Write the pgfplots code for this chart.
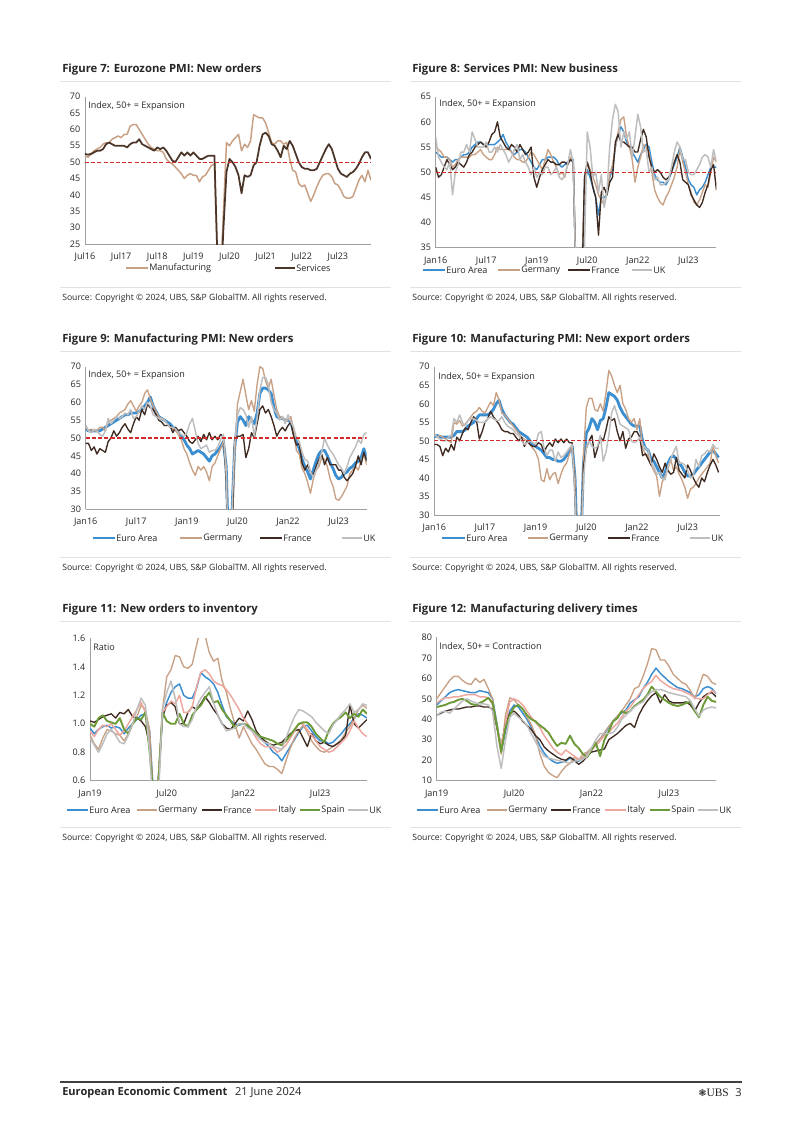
\documentclass[border=0pt]{standalone}
\usepackage{fontspec}
\setmainfont{Open Sans}
\newfontfamily\dejavu{DejaVu Sans}
\newfontfamily\ubsserif{Liberation Serif}
\usepackage{pgfplots}
\usepackage{pgfplotstable}
\pgfplotsset{compat=1.18}
\definecolor{cEA}{HTML}{3B8ED0}
\definecolor{cDE}{HTML}{C8A084}
\definecolor{cFR}{HTML}{3E2A20}
\definecolor{cUK}{HTML}{BEBEBE}
\definecolor{cIT}{HTML}{EDA79E}
\definecolor{cES}{HTML}{6C9A36}
\definecolor{cSV}{HTML}{4B3529}
\definecolor{cRed}{HTML}{D42A2A}
\definecolor{cAx}{HTML}{A0A0A0}
\definecolor{cTxt}{HTML}{262626}
\definecolor{cRule}{HTML}{E2E2E2}
\newcommand\tl{\fontsize{6.7}{8}\selectfont}
\newcommand\srcf{\fontsize{6.4}{7.5}\selectfont}
\newcommand\ttlf{\bfseries\fontsize{8.4}{10}\selectfont}
\tikzset{
 sEA/.style={cEA, line width=1.1pt},
 sEAt/.style={cEA, line width=2.1pt},
 sDE/.style={cDE, line width=1pt},
 sFR/.style={cFR, line width=1pt},
 sUK/.style={cUK, line width=1.1pt},
 sIT/.style={cIT, line width=1.1pt},
 sES/.style={cES, line width=1.4pt},
 sMF/.style={cDE, line width=1.1pt},
 sSV/.style={cSV, line width=1.3pt},
 sRD/.style={cRed, line width=0.9pt, dash pattern=on 3pt off 1.6pt},
 tt/.style={anchor=west, inner sep=0pt, font=\ttlf, text=cTxt},
 src/.style={anchor=west, inner sep=0pt, font=\srcf, text=cTxt},
 lt/.style={anchor=west, inner sep=0.8pt, font=\tl, text=cTxt},
}
\pgfplotsset{ubs/.style={
 scale only axis, anchor=south west,
 axis x line*=bottom, axis y line*=left,
 axis line style={-, cAx, line width=0.7pt},
 x axis line style={-}, y axis line style={-},
 major tick length=0pt,
 tick label style={font=\tl, text=cTxt},
 /pgf/number format/assume math mode=true,
 xticklabel style={yshift=-3pt},
 clip=true, no markers, xmin=0,
 every axis plot/.append style={line join=round},
}}
\begin{document}
\pgfplotstableread{
mfg svc
52 52.5
51.5 52.3
52.5 52.5
53.5 53
54 53.5
54.5 53.5
55.5 54
56 55.5
56 56
57 55.5
57.5 55
58 55
57.5 55
58.5 55
58.5 54.5
61 55.5
61.5 56
61.5 56
60 57
58.5 55.5
57 55
55.5 54.5
54.5 54
54 53.5
53.5 54.5
53.5 54
53 54.5
51 53.5
50 52
49.5 50.5
48.5 50
47.5 51.5
46.5 53
45 52
46 53
46.5 52
46 53
46 52
44 51
45.5 51
46 51.5
47.5 52
49 52
49.5 52
20 20
15 10
35 30
56 47
55 51
56.5 50
57.5 48.5
58.5 46
53.5 40.5
55.5 46
54.5 45.5
56.5 46
64.5 49
64 50
63.5 55
63.5 58.5
62 59
59 58
56 55.5
55.5 55
56.5 53.5
56.5 51.5
55.5 55
56 54
51 56.5
47.5 55
47 52.5
43.5 50
42.5 48.5
43 48
40.5 48
38 47.5
40 47.5
42.5 48
44.5 50
46 52
46.5 54
46.5 55.5
45.5 54
43.5 51
43 48
41.5 46.5
39.5 46
39 45.5
39 46.5
39.5 47
42 48
44.5 49.5
46 51.5
44 53
47.5 53
44.5 51
}\tabA
\pgfplotstableread{
ea de fr uk
54 55 51 57
53.5 54.5 49 53
53 54 49.5 52
53 53 51 51
53 53 52.5 50.5
52.5 52.5 51.5 52
52 51 50.5 45.5
52.5 51.5 51 50
52.5 52.5 52 51.5
53 53 51.5 54
53.5 53 51 54
53.5 53 52 55.5
54 53 53.5 54
55 53.5 54 58
55.5 53.5 55 56.5
56 54 55.5 55
56 54.5 56 55
55.5 53.5 55.5 55
55.5 53 55 56
55.5 52.5 56 54
55.5 52.5 57.5 54
55.5 53.5 58 55
56 55 60 54
56.5 54.5 57 55.5
57.5 54.5 56 54.5
56 54.5 55 53.5
55 54.5 54.5 52
54 54 55.5 53
53.5 53 55 54.5
54 52.5 54 55.5
54.5 52.5 55.5 52.5
54.5 52 54.5 53.5
54 52 53.5 52
53 53 54 51
52 54 55 49.5
51 53.5 49 51
50.5 52.5 47 49
51.5 51.5 49 50
52.5 50.5 50.5 49.5
52.5 52.5 51.5 51
53 54.5 52.5 51
53 53.5 52 49.5
53 52 52 50
52.5 51 51.5 51
51.5 49.5 51.5 49
51 50 52 48.5
51.5 49 52 49.5
52 51.5 51.5 51.5
52.5 53 52.5 54.5
52.5 52 52 52
27 30 27 27
10 15 10 10
24 30 25 16
47 47 49 35
50.5 52 52 58
49 50.5 50 55
47 49 47 49
45 47.5 45 50
41.5 45.5 37.5 46
45 44.5 46 49.5
45 43.5 47 43
45.5 46 45.5 46
49 49.5 48 55
50.5 51.5 49 60.5
55 55 56 63.5
57.5 58 57.5 62
59 60.5 56 55
58 61 56 58
56 57 55.5 56.5
55 55 55 58
54 52.5 55 53
53 48 54 57
52 51 54 61.5
53.5 53 56.5 59
54.5 55.5 58.5 54
55.5 55 57 54.5
55 54 53 50
52 50 51 51
49.5 46.5 50 48.5
48.5 45 50.5 49
48 44 50 47.5
48 43.5 49 47.5
47.5 45 48.5 48
48.5 46 49 48.5
50 47.5 50 51
51.5 49 52 54
53 51 53.5 56
55 54.5 52 55
53 52 48.5 52.5
51 50 48 52.5
48.5 47.5 47.5 50
47.5 46 45.5 49.5
47 44 44.5 49.5
45.5 43.5 43.5 50.5
46.5 44.5 43 51.5
47 46 44 53
48 47.5 46 53.5
49.5 47 47.5 53
51 50 50.5 51
51 53 51.5 54.5
51 52 46.5 52
}\tabB
\pgfplotstableread{
ea de fr uk
52.5 53.5 48.5 53.5
52 52 48.5 52
52 52.5 46.5 51.5
52 52 47.5 52.5
52 52 45.5 52
52 53 47 51
52.5 53 46.5 50.5
53 52 46 52
53.5 54.5 49 55.5
54 55 50 54
54.5 55.5 52 55
55 56 50.5 56
55.5 57 51.5 55.5
56 57.5 53 56
56.5 58 54 57
56.5 59.5 52.5 56.5
57 60.5 51.5 58
57 59 54 55.5
57 57.5 56 56
57.5 59 55 57.5
58 60 58 59
59 62.5 56.5 58
60 63.5 59.5 60
61.5 61 58.5 59
59 59 58 56.5
57.5 57.5 56.5 56
56 56 55 55.5
55.5 55.5 54.5 55.5
55 55 53.5 55
54.5 54 53.5 54
54 53 53.5 53
53 52.5 51.5 53
52.5 52 53 52.5
51.5 51 52 51.5
50.5 49.5 52.5 51
49.5 47 51.5 50.5
48 45.5 50.5 51.5
47 43 49 54
45.5 41 48.5 55.5
46 39.5 49.5 52
46.5 42 50.5 48.5
46 41 49 47
45.5 42 51 47.5
44.5 40.5 49.5 48
43.5 38 51.5 46
45 42 49.5 46.5
45.5 43 50.5 46.5
46.5 45 49.5 47.5
47.5 47 51 49.5
49 49 50.5 51
42 42 38 40
15 10 10 10
28 20 20 28
47 45 49.5 48
54.5 59.5 50.5 56.5
56 63 50.5 58.5
55 66.5 51 58
53.5 62 44.5 56.5
56 58 47 53
55 60.5 51.5 56
54 57.5 50 50.5
57 65 54 55.5
62.5 70 58 63.5
64 69.5 59 67
64 66 57 67
63.5 64 58 65
62.5 66.5 56 60
58.5 62 53.5 58
56 58 50.5 57
55.5 56 52 55
55.5 56 53 56
55 55 52 54
55 55 53.5 56.5
54.5 56 54.5 54.5
51.5 52 50.5 53
49 46.5 48 50
47 45.5 48.5 49
44 41.5 43 46
42 40 41 44
40.5 37.5 42.5 43.5
38.5 34.5 40.5 40.5
41 38.5 39.5 39
43.5 41 42 41
45.5 42 44 43
46.5 44.5 45.5 46
46.5 44 42.5 50
45 42 44.5 48
43 38.5 42.5 46.5
41.5 36.5 42.5 45.5
39.5 33 42.5 44
38.5 32.5 41 42.5
39 33.5 41 41.5
40 35 39 40
40.5 36.5 38 42
41.5 40 39 44.5
42 41 40 46
43 42 42 47.5
43.5 41 45 49.5
44.5 43.5 42.5 48.5
47 45.5 46 51
44 42.5 43.5 51.5
}\tabC
\pgfplotstableread{
ea de fr uk
51 52 49 52
51.5 51 49 51
51 51.5 48.5 50.5
51 51 46 50
51 50.5 48 50
51 50 47 51
51 49.5 49 51.5
51.5 55 47.5 56
52.5 54.5 51 55
52.5 55.5 50 57
52.5 54 52 55
53 54.5 53.5 54
54 55.5 53 55.5
54.5 56.5 55 56
55 57.5 56.5 56
56 58 55.5 55.5
57 59 50.5 55
57 58 52.5 55
57 57.5 55 55
57 59 56 56
57.5 60.5 58 56.5
58.5 59.5 56.5 56
60 63 55.5 55.5
61 61 54.5 55.5
58.5 57.5 53 56.5
57 57 52.5 55
56 56 52.5 54
55 55 52 53.5
54.5 54 52 53
53.5 53 51 52
52.5 52 50 51.5
52 51 51 50
51.5 50.5 48.5 49
51 50 50 49.5
50 49 49 50
49 48 48.5 49.5
48.5 47 48.5 49
48 45 49.5 52
47.5 39.5 49 52.5
46.5 39 47 48
45.5 42.5 48.5 46
45.5 39.5 49.5 47.5
45 41 48.5 47.5
45 41.5 50.5 44.5
44.5 38.5 49.5 47
44.5 41 50.5 45.5
45 43 49.5 46
46 44 50.5 47
47 46.5 49.5 48
48.5 48.5 49.5 49
40 40 36 35
15 10 10 10
20 20 20 20
44 46 43 40
52 59 48 48
53.5 61.5 50 50
56 61.5 51.5 48.5
55 58.5 45.5 48
53 58 48 48.5
55.5 60 51 51.5
56 58 50 44.5
59 63 53 47
63 69 56.5 51.5
62.5 67.5 55.5 57.5
62 65 56 59.5
61 63 52.5 57
59 65 50 54.5
57.5 60 52.5 54
56.5 58.5 48 53.5
55.5 56 50.5 53
54.5 55 51 50
54 56 52.5 49.5
54 53 52.5 50
54 56 51 51
50 48 46 49
48 46.5 46.5 48
47.5 46 45 47.5
45 43.5 43.5 44
44.5 42 46.5 43
43 40.5 45 41
41.5 35 43 41.5
40 39 41.5 40
41.5 40.5 44 39.5
44 42.5 42 43
45.5 45 41 45
46 42 41.5 47
45 43 45.5 48.5
44 41 42 44
43 39.5 41 44
41.5 37.5 40 43.5
40.5 34.5 43.5 42
40.5 37 42 40
41 37.5 40 40.5
42 38.5 38.5 45
43 40 37.5 43
44 41 40 46
45 42 39 46.5
46 43 41.5 47.5
47 44 43.5 47
47.5 48.5 45 49
46.5 46 43.5 48
45.5 44 41.5 48
}\tabD
\pgfplotstableread{
ea de fr it es uk
0.97 0.92 1.02 0.95 1.00 0.90
0.93 0.86 1.01 0.91 0.98 0.85
0.96 0.82 1.03 0.96 1.04 0.80
0.98 0.90 1.05 0.99 1.06 0.86
0.99 0.96 1.06 0.98 1.02 0.93
0.97 0.95 1.07 1.00 1.01 0.96
0.98 0.93 1.04 0.96 1.00 0.92
0.97 0.92 1.08 0.92 1.04 0.87
0.93 0.88 1.07 0.95 0.96 0.86
0.97 0.93 1.10 1.00 0.93 0.92
1.00 1.00 1.05 1.05 1.00 1.00
1.03 1.05 1.04 1.10 1.04 1.10
1.06 1.13 1.02 1.15 1.03 1.18
1.07 1.10 0.98 1.08 1.08 1.13
0.95 0.95 0.85 0.85 0.80 0.80
0.45 0.40 0.45 0.45 0.45 0.30
0.60 0.55 0.60 0.60 0.55 0.45
1.05 1.10 1.05 1.08 1.08 1.10
1.15 1.33 1.13 1.12 1.02 1.22
1.22 1.38 1.15 1.16 1.00 1.30
1.26 1.48 1.12 1.14 1.00 1.18
1.28 1.47 1.00 1.20 1.07 1.00
1.20 1.40 1.00 1.08 1.00 0.98
1.18 1.39 1.08 1.08 0.98 0.98
1.18 1.42 1.12 1.12 1.06 1.03
1.25 1.55 1.10 1.26 1.10 1.12
1.36 1.68 1.14 1.36 1.13 1.18
1.33 1.62 1.19 1.38 1.18 1.22
1.31 1.50 1.15 1.35 1.22 1.26
1.28 1.44 1.10 1.30 1.15 1.15
1.22 1.46 1.06 1.28 1.16 1.06
1.13 1.30 1.00 1.27 1.10 1.00
1.05 1.22 0.97 1.24 1.06 0.95
1.02 1.10 0.96 1.20 1.02 0.96
1.00 1.00 1.00 1.15 0.97 0.97
0.99 0.90 1.04 1.10 1.00 1.00
1.00 0.98 1.02 1.04 1.00 1.00
0.98 0.92 1.09 1.00 0.99 0.97
0.96 0.86 1.03 0.95 0.96 0.95
0.93 0.82 0.95 0.90 0.93 0.92
0.90 0.77 0.91 0.86 0.91 0.89
0.87 0.72 0.88 0.84 0.90 0.87
0.84 0.70 0.86 0.84 0.89 0.86
0.80 0.70 0.85 0.83 0.88 0.84
0.78 0.68 0.86 0.80 0.86 0.83
0.74 0.65 0.87 0.82 0.85 0.82
0.79 0.74 0.90 0.85 0.88 0.90
0.84 0.83 0.93 0.90 0.92 0.98
0.89 0.90 0.95 0.95 0.96 1.05
0.94 0.95 0.96 1.00 1.00 1.10
0.98 0.99 0.90 1.00 1.01 1.09
0.99 0.94 0.84 0.96 1.01 1.07
0.95 0.88 0.93 0.92 0.98 1.05
0.91 0.84 0.88 0.88 0.93 1.01
0.88 0.81 0.86 0.84 0.90 0.98
0.88 0.80 0.87 0.82 0.87 0.95
0.86 0.82 0.85 0.80 0.95 0.93
0.87 0.84 0.84 0.81 1.00 0.99
0.90 0.86 0.86 0.84 1.03 1.03
0.93 0.89 0.88 0.87 1.05 1.07
0.97 0.94 0.92 0.90 1.08 1.10
1.00 0.98 1.13 0.95 1.04 1.14
1.04 1.04 1.00 1.02 1.07 1.08
1.07 1.10 0.97 0.97 1.05 1.10
1.06 1.13 1.00 0.93 1.10 1.14
1.04 1.11 1.03 0.91 1.07 1.13
}\tabE
\pgfplotstableread{
ea de fr it es uk
47 50 42 48 46 42
49 53 43 49.5 46.5 43.5
51 56 44 50.5 47 44
53 59 44.5 50.5 48 43
54 61 45 51 48.5 45
54.5 61 45 51 49.5 47
54 59 45.5 51.5 50 49
53.5 57.5 46 52 49 50
53 57 46 52 47.5 49
53 60 46.5 52 47 48
54 58 46.5 51 48 47.5
53.5 59.5 46 51 49 47.5
53 55 46 50.5 50.5 47
50 50 45 47 48 44
38 36 36 37 37 27
24 23 27 27 24 16
34 42 38 38 36 30
44 50.5 43 48.5 42 41
47 49.5 44 50 46 43
46 47 42 49 47 41
43 45 39 47 45 39.5
40 41 37 44 42 37
36 37.5 35 41 40 33
31.5 32 32 38.5 39 29
27 23 30 36 37 25
23.5 17 26.5 32 35.5 22
21 14 24.5 29 33.5 21
19.5 12.5 23 26 30 20.5
18.5 11.5 21.5 24 27 20
19 14.5 20.5 22.5 28.5 19.5
19.5 17 20 25 28 19
21 18.5 21.5 23.5 32 18.5
20 21.5 20 22 28 19.5
19.5 20 18 20.5 26 20
21 23 19.5 21.5 23 20.5
23.5 24 22 23 21.5 22
26 26 24 25 25 26
28 28 24.5 27 28.5 30
30.5 30.5 25 29.5 22 33
33 33.5 25.5 32 30 33
36 36.5 30 33.5 34 33
39 39 31.5 36 39 33.5
41.5 41.5 33 38 40.5 36
43 44 35 41 44 40
44.5 47 37 44 43 42
48 50 38 46 44 44
49.5 55 36 49 46.5 46
51 56 42 52 48 47.5
55 61 46 55 49.5 48.5
58 67 49 57 52 51.5
62 74.5 51.5 58.5 56 53.5
65 74 53 61.5 53.5 54.5
62.5 69 48 59 51 54.5
60.5 69 52 57.5 49.5 54
58.5 66 49 56 48 53
57 62 48 55 47 52.5
55.5 60 48 54.5 46.5 52
55 58 48 54 47 51.5
54 57 48.5 53 48 51
53 54 47 52 48.5 49
51 50 44 50.5 44 45
52 56 48 50 41 41.5
55 62 51 50 47 44.5
56 61 52.5 52 51 45.5
55 58 53 54 49 46
52.5 57 51 53 48.5 45.5
}\tabF
\begin{tikzpicture}
\begin{scope}[x=0.7424pt,y=-0.7424pt]
\fill[white] (0,0) rectangle (802,1134);
% titles
\node[tt] at (62,70) {Figure 7: Eurozone PMI: New orders};
\node[tt] at (412,70) {Figure 8: Services PMI: New business};
\node[tt] at (62,340) {Figure 9: Manufacturing PMI: New orders};
\node[tt] at (412,340) {Figure 10: Manufacturing PMI: New export orders};
\node[tt] at (62,610) {Figure 11: New orders to inventory};
\node[tt] at (412,610) {Figure 12: Manufacturing delivery times};
% rules
\foreach \yy in {81,351,621,287,557,827} {
  \draw[cRule, line width=0.5pt] (60,\yy) -- (391,\yy);
  \draw[cRule, line width=0.5pt] (410,\yy) -- (741,\yy);
}
% sources
\foreach \yy in {298,568,838} {
  \node[src] at (62,\yy) {Source: Copyright © 2024, UBS, S\&P GlobalTM. All rights reserved.};
  \node[src] at (412,\yy) {Source: Copyright © 2024, UBS, S\&P GlobalTM. All rights reserved.};
}
% annotations
\node[lt] at (87,106) {Index, 50+ = Expansion};
\node[lt] at (438,104) {Index, 50+ = Expansion};
\node[lt] at (87,375) {Index, 50+ = Expansion};
\node[lt] at (437,377) {Index, 50+ = Expansion};
\node[lt] at (92,647) {Ratio};
\node[lt] at (438,647) {Index, 50+ = Contraction};
% legends
\draw[sMF] (126,268) -- (148,268); \node[lt] at (148,268) {Manufacturing};
\draw[sSV] (275,268) -- (295,268); \node[lt] at (295,268) {Services};
\draw[sEA] (423,270) -- (445,270); \node[lt] at (445,270) {Euro Area};
\draw[sDE] (498,270) -- (520,270); \node[lt] at (520,270) {Germany};
\draw[sFR] (568,270) -- (590,270); \node[lt] at (590,270) {France};
\draw[sUK] (632,270) -- (652,270); \node[lt] at (652,270) {UK};
\draw[sEAt] (93,538) -- (115,538); \node[lt] at (115,538) {Euro Area};
\draw[sDE] (180,538) -- (202,538); \node[lt] at (202,538) {Germany};
\draw[sFR] (260,538) -- (282,538); \node[lt] at (282,538) {France};
\draw[sUK] (342,538) -- (362,538); \node[lt] at (362,538) {UK};
\draw[sEAt] (442,538) -- (465,538); \node[lt] at (465,538) {Euro Area};
\draw[sDE] (528,538) -- (548,538); \node[lt] at (548,538) {Germany};
\draw[sFR] (608,538) -- (630,538); \node[lt] at (630,538) {France};
\draw[sUK] (690,538) -- (710,538); \node[lt] at (710,538) {UK};
\draw[sEA] (67,810) -- (88,810); \node[lt] at (88,810) {Euro Area};
\draw[sDE] (137,810) -- (157,810); \node[lt] at (157,810) {Germany};
\draw[sFR] (202,810) -- (222,810); \node[lt] at (222,810) {France};
\draw[sIT] (255,810) -- (277,810); \node[lt] at (277,810) {Italy};
\draw[sES] (300,810) -- (320,810); \node[lt] at (320,810) {Spain};
\draw[sUK] (348,810) -- (368,810); \node[lt] at (368,810) {UK};
\draw[sEA] (417,810) -- (438,810); \node[lt] at (438,810) {Euro Area};
\draw[sDE] (487,810) -- (507,810); \node[lt] at (507,810) {Germany};
\draw[sFR] (551,810) -- (571,810); \node[lt] at (571,810) {France};
\draw[sIT] (605,810) -- (626,810); \node[lt] at (626,810) {Italy};
\draw[sES] (650,810) -- (670,810); \node[lt] at (670,810) {Spain};
\draw[sUK] (698,810) -- (718,810); \node[lt] at (718,810) {UK};
% footer
\draw[black!75, line width=0.8pt] (60,1082) -- (742,1082);
\node[anchor=west, inner sep=0pt, font=\fontsize{8.2}{9.5}\selectfont, text=cTxt] at (62,1093) {\textbf{European Economic Comment}\hspace{0.7em}21 June 2024};
\node[anchor=east, inner sep=0pt, font=\fontsize{8.2}{9.5}\selectfont, text=cTxt] at (742,1093) {{\dejavu\fontsize{7}{9}\selectfont ❃}{\ubsserif\fontsize{8.5}{9.5}\selectfont UBS}\hspace{0.6em}3};
\end{scope}
% Figure 7
\begin{axis}[ubs, at={(63.10pt,-181.15pt)}, width=212.33pt, height=109.36pt,
  xmax=95, ymin=25, ymax=70, ytick={25,30,...,70},
  xtick={0,12,24,36,48,60,72,84}, xticklabels={Jul16,Jul17,Jul18,Jul19,Jul20,Jul21,Jul22,Jul23}]
\addplot[sMF] table[x expr=\coordindex, y=mfg] {\tabA};
\addplot[sSV] table[x expr=\coordindex, y=svc] {\tabA};
\addplot[sRD] coordinates {(0,50) (95,50)};
\end{axis}
% Figure 8
\begin{axis}[ubs, at={(323.46pt,-183.89pt)}, width=208.39pt, height=112.10pt,
  xmax=100, ymin=35, ymax=65, ytick={35,40,...,65},
  xtick={0,18,36,54,72,90}, xticklabels={Jan16,Jul17,Jan19,Jul20,Jan22,Jul23}]
\addplot[sEA] table[x expr=\coordindex, y=ea] {\tabB};
\addplot[sDE] table[x expr=\coordindex, y=de] {\tabB};
\addplot[sFR] table[x expr=\coordindex, y=fr] {\tabB};
\addplot[sUK] table[x expr=\coordindex, y=uk] {\tabB};
\addplot[sRD] coordinates {(0,50) (100,50)};
\end{axis}
% Figure 9
\begin{axis}[ubs, at={(63.62pt,-378.10pt)}, width=208.61pt, height=105.87pt,
  xmax=100, ymin=30, ymax=70, ytick={30,35,...,70},
  xtick={0,18,36,54,72,90}, xticklabels={Jan16,Jul17,Jan19,Jul20,Jan22,Jul23}]
\addplot[sEAt] table[x expr=\coordindex, y=ea] {\tabC};
\addplot[sDE] table[x expr=\coordindex, y=de] {\tabC};
\addplot[sFR] table[x expr=\coordindex, y=fr] {\tabC};
\addplot[sUK] table[x expr=\coordindex, y=uk] {\tabC};
\addplot[sRD] coordinates {(0,50) (100,50)};
\end{axis}
% Figure 10
\begin{axis}[ubs, at={(322.42pt,-382.34pt)}, width=212.11pt, height=110.10pt,
  xmax=101.5, ymin=30, ymax=70, ytick={30,35,...,70},
  xtick={0,18,36,54,72,90}, xticklabels={Jan16,Jul17,Jan19,Jul20,Jan22,Jul23}]
\addplot[sEAt] table[x expr=\coordindex, y=ea] {\tabD};
\addplot[sDE] table[x expr=\coordindex, y=de] {\tabD};
\addplot[sFR] table[x expr=\coordindex, y=fr] {\tabD};
\addplot[sUK] table[x expr=\coordindex, y=uk] {\tabD};
\addplot[sRD] coordinates {(0,50) (101.5,50)};
\end{axis}
% Figure 11
\begin{axis}[ubs, at={(66.82pt,-579.59pt)}, width=205.64pt, height=105.64pt,
  xmax=65, ymin=0.6, ymax=1.6, ytick={0.6,0.8,1.0,1.2,1.4,1.6},
  yticklabel style={/pgf/number format/.cd, fixed, fixed zerofill, precision=1},
  xtick={0,18,36,54}, xticklabels={Jan19,Jul20,Jan22,Jul23}]
\addplot[sEA] table[x expr=\coordindex, y=ea] {\tabE};
\addplot[sDE] table[x expr=\coordindex, y=de] {\tabE};
\addplot[sFR] table[x expr=\coordindex, y=fr] {\tabE};
\addplot[sIT] table[x expr=\coordindex, y=it] {\tabE};
\addplot[sES] table[x expr=\coordindex, y=es] {\tabE};
\addplot[sUK] table[x expr=\coordindex, y=uk] {\tabE};
\end{axis}
% Figure 12
\begin{axis}[ubs, at={(324.21pt,-579.59pt)}, width=207.50pt, height=106.39pt,
  xmax=65, ymin=10, ymax=80, ytick={10,20,...,80},
  xtick={0,18,36,54}, xticklabels={Jan19,Jul20,Jan22,Jul23}]
\addplot[sEA] table[x expr=\coordindex, y=ea] {\tabF};
\addplot[sDE] table[x expr=\coordindex, y=de] {\tabF};
\addplot[sFR] table[x expr=\coordindex, y=fr] {\tabF};
\addplot[sIT] table[x expr=\coordindex, y=it] {\tabF};
\addplot[sES] table[x expr=\coordindex, y=es] {\tabF};
\addplot[sUK] table[x expr=\coordindex, y=uk] {\tabF};
\end{axis}
\end{tikzpicture}
\end{document}
